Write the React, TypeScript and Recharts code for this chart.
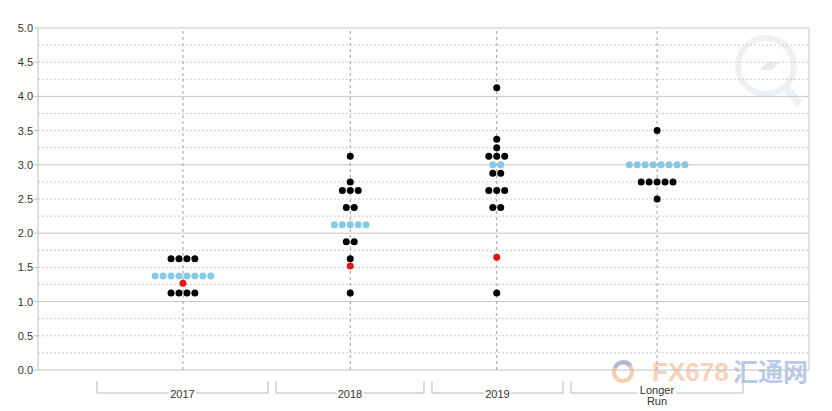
import React from "react";
import { ReferenceArea, ReferenceLine, Scatter, ScatterChart, XAxis, YAxis } from "recharts";

// categories sit on a 0..10 numeric x axis
const CATEGORIES = ["2017", "2018", "2019", "Longer Run"];
const CATEGORY_X = [1.88, 4.05, 5.95, 8.03];
const BRACKET_FROM = [0.765, 3.087, 5.11, 6.913];
const BRACKET_TO = [2.983, 5.006, 6.809, 9.144];

// [rate, number of dots] per category
const DOTS_2017 = [[1.625, 4], [1.125, 4]];
const DOTS_2018 = [[3.125, 1], [2.75, 1], [2.625, 3], [2.375, 2], [1.875, 2], [1.625, 1], [1.125, 1]];
const DOTS_2019 = [[4.125, 1], [3.375, 1], [3.25, 1], [3.125, 3], [2.875, 2], [2.625, 3], [2.375, 2], [1.125, 1]];
const DOTS_LONGER = [[3.5, 1], [2.75, 5], [2.5, 1]];
const BLACK_DOTS = [DOTS_2017, DOTS_2018, DOTS_2019, DOTS_LONGER];

const MEDIAN_RATE = [1.375, 2.125, 3.0, 3.0];
const MEDIAN_COUNT = [8, 5, 2, 8];

const MARKET_RATE = [1.27, 1.52, 1.65];

const Y_TICKS = [0, 0.5, 1, 1.5, 2, 2.5, 3, 3.5, 4, 4.5, 5];
const GRID_Y = [0.25, 0.5, 0.75, 1, 1.25, 1.5, 1.75, 2, 2.25, 2.5, 2.75, 3, 3.25, 3.5, 3.75, 4, 4.25, 4.5, 4.75, 5];

const DOT_STEP = 0.103;
const FONT = "Arial, 'Liberation Sans', sans-serif";

function spread(center: number, y: number, n: number) {
  const pts = [];
  for (let i = 0; i < n; i++) pts.push({ x: center + (i - (n - 1) / 2) * DOT_STEP, y });
  return pts;
}

const blackData = BLACK_DOTS.flatMap((rows, c) => rows.flatMap(([y, n]) => spread(CATEGORY_X[c], y, n)));
const blueData = MEDIAN_RATE.flatMap((y, c) => spread(CATEGORY_X[c], y, MEDIAN_COUNT[c]));
const redData = MARKET_RATE.map((y, c) => ({ x: CATEGORY_X[c], y }));

const dot = (fill: string) => (p: any) => <circle cx={p.cx} cy={p.cy} r={3.5} fill={fill} />;

function Bracket(p: any & { label: string }) {
  const bottom = p.y + p.height;
  const left = p.x;
  const right = p.x + p.width;
  const mid = p.x + p.width / 2;
  const lines = p.label.split(" ");
  const textW = Math.max(...lines.map((l: string) => l.length)) * 6.2 + 2;
  return (
    <g>
      <path d={`M${left},${bottom + 11}V${bottom + 23}H${right}V${bottom + 11}`} fill="none" stroke="#b8b8b8" />
      <rect x={mid - textW / 2} y={bottom + 18} width={textW} height={10} fill="#fff" fillOpacity={0.8} />
      {lines.length === 1 ? (
        <text x={mid} y={bottom + 24} textAnchor="middle" dominantBaseline="central" fontSize={11} fontFamily={FONT} fill="#333">{p.label}</text>
      ) : (
        lines.map((l: string, i: number) => (
          <text key={l} x={mid} y={bottom + 19.5 + i * 11} textAnchor="middle" dominantBaseline="central" fontSize={11} fontFamily={FONT} fill="#333">{l}</text>
        ))
      )}
    </g>
  );
}

function Watermarks() {
  return (
    <svg width={832} height={411} style={s.overlay}>
      <g opacity={0.3} fill="none" stroke="#c8d2d8">
        <circle cx={766} cy={66} r={28} strokeWidth={6} />
        <path d="M786,88 L800,104" strokeWidth={8} />
      </g>
      <polygon points="792,36 760,70 772,70 742,100 780,62 768,62" fill="#e2e2e2" opacity={0.7} />
      <circle cx={623} cy={372} r={9} fill="none" stroke="#f3c09c" strokeWidth={4} opacity={0.8} />
      <path d="M615,368 A9,9 0 0 1 631,366" fill="none" stroke="#9db4dd" strokeWidth={4} opacity={0.8} />
      <text x={652} y={381} fontSize={26} fontWeight="bold" fontFamily={FONT} fill="#f6b48a" opacity={0.6}>FX678</text>
      <text x={733} y={381} fontSize={25} fontWeight="bold" fontFamily="'Noto Sans CJK SC', sans-serif" fill="#7f9fd5" opacity={0.55}>汇通网</text>
    </svg>
  );
}

export default function App() {
  return (
    <div style={s.wrap}>
      <Watermarks />
      <ScatterChart width={832} height={411} margin={{ top: 28, right: 23, left: 8, bottom: 0 }} style={s.chart}>
        {GRID_Y.map((v) => (
          <ReferenceLine key={v} y={v} stroke={Number.isInteger(v) ? "#c6c6c6" : "#cbcbcb"} strokeDasharray={Number.isInteger(v) ? undefined : "2 2"} />
        ))}
        <ReferenceLine x={10} stroke="#c6c6c6" />
        <XAxis
          type="number"
          dataKey="x"
          domain={[0, 10]}
          ticks={CATEGORY_X}
          tick={false}
          tickSize={5}
          height={41}
          axisLine={{ stroke: "#c0c0c0" }}
          tickLine={{ stroke: "#a8a8a8", strokeDasharray: "2 2" }}
        />
        <YAxis
          type="number"
          dataKey="y"
          domain={[0, 5]}
          ticks={Y_TICKS}
          width={30}
          tickSize={4}
          tickMargin={1}
          tickFormatter={(v: number) => v.toFixed(1)}
          axisLine={{ stroke: "#c0c0c0" }}
          tickLine={{ stroke: "#c0c0c0" }}
          tick={{ fill: "#333", fontSize: 11, fontFamily: FONT }}
        />
        {CATEGORIES.map((c, i) => (
          <ReferenceArea
            key={c}
            x1={BRACKET_FROM[i]}
            x2={BRACKET_TO[i]}
            ifOverflow="visible"
            shape={(p: any) => <Bracket {...p} label={c} />}
          />
        ))}
        <Scatter data={blackData} shape={dot("#000")} isAnimationActive={false} />
        <Scatter data={blueData} shape={dot("#86c9e3")} isAnimationActive={false} />
        <Scatter data={redData} shape={dot("#e3141b")} isAnimationActive={false} />
        {CATEGORY_X.map((x) => (
          <ReferenceLine key={x} x={x} stroke="#a0a0a0" strokeDasharray="3 3" />
        ))}
      </ScatterChart>
    </div>
  );
}

const s: Record<string, React.CSSProperties> = {
  wrap: { position: "absolute", left: 0, top: 0, width: 832, height: 411, background: "#fff" },
  overlay: { position: "absolute", left: 0, top: 0, pointerEvents: "none" },
  chart: { position: "absolute", left: 0, top: 0 },
};
